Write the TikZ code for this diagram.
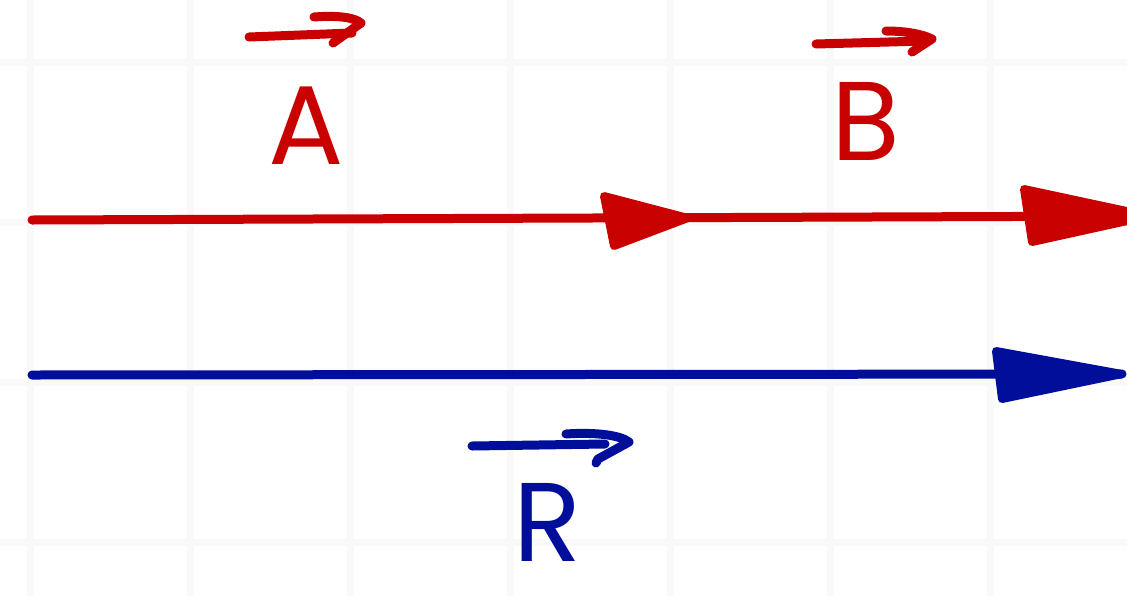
\documentclass[tikz,border=0pt]{standalone}
\usepackage{fontspec}
\newfontfamily\hand{Poppins}
\definecolor{penred}{RGB}{200,0,0}
\definecolor{penblue}{RGB}{0,14,153}
\definecolor{gridc}{RGB}{249,249,249}
\begin{document}
\begin{tikzpicture}[x=1pt,y=-1pt, line cap=round, line join=round,
  pen/.style={line width=9pt, draw=#1},
  head/.style={line width=8pt, draw=#1, fill=#1},
  vecpen/.style={line width=9pt, draw=#1},
  lbl/.style={font=\hand\fontsize{112}{112}\selectfont, inner sep=0pt, text=#1}]
\useasboundingbox (0,0) rectangle (1127,595);
\clip (0,0) rectangle (1127,595);
\fill[white] (0,0) rectangle (1127,595);
\foreach \x in {30,190,...,990} \draw[gridc, line width=7pt] (\x,0) -- (\x,595);
\foreach \y in {62,222,382,542} \draw[gridc, line width=7pt] (0,\y) -- (1127,\y);
% coordinates
\coordinate (a0) at (32,220);
\coordinate (a1) at (688,218);
\coordinate (b1) at (1150,216);
\coordinate (r0) at (32,375);
\coordinate (r1) at (1122,374);
% red vectors
\draw[pen=penred] (a0) -- (b1);
\filldraw[head=penred] (604,196) -- (a1) -- (614,246) -- cycle;
\filldraw[head=penred] (1024,189) -- (b1) -- (1032,242) -- cycle;
% blue vector
\draw[pen=penblue] (r0) -- (r1);
\filldraw[head=penblue] (996,351) -- (r1) -- (1002,399) -- cycle;
% labels
\node[lbl=penred] (A) at (306,126) {A};
\node[lbl=penred] (B) at (866,121) {B};
\node[lbl=penblue] (R) at (548,522) {R};
% vector arrows above labels
\coordinate (va0) at (249,37);
\coordinate (va1) at (352,33);
\draw[vecpen=penred] (va0) -- (va1);
\draw[vecpen=penred] (314,17) .. controls (340,15) and (355,18) .. (361,23) -- (333,43);
\coordinate (vb0) at (816,44);
\coordinate (vb1) at (925,41);
\draw[vecpen=penred] (vb0) -- (vb1);
\draw[vecpen=penred] (886,31) .. controls (905,31) and (922,34) .. (932,39) -- (912,52);
\coordinate (vr0) at (472,446);
\coordinate (vr1) at (605,444);
\draw[vecpen=penblue] (vr0) -- (vr1);
\draw[vecpen=penblue] (566,434) .. controls (595,432) and (620,435) .. (629,442) -- (598,459) -- (596,463);
\end{tikzpicture}
\end{document}
